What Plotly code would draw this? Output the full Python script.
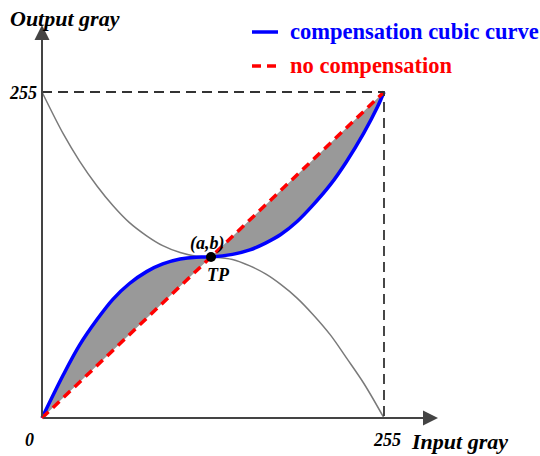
import plotly.graph_objects as go

# ---------------- data ----------------
max_gray = 255
blue_x = [0, 16, 28, 41, 53, 65, 78, 90, 103, 115, 126, 142, 155, 167, 178, 190, 202, 215, 227, 240, 250, 255]
blue_y = [0, 34, 57, 77, 93, 105, 114.5, 120.5, 124.3, 125.8, 126, 128, 131.5, 137, 143.5, 153.5, 166.5, 182.5, 200.5, 223, 243, 255]
gray_x = [0, 16, 28, 41, 53, 65, 78, 90, 103, 115, 126, 142, 155, 167, 178, 190, 202, 215, 227, 240, 255]
gray_y = [255, 222, 201, 181.5, 166, 153, 142.5, 134.8, 129.4, 126.6, 126, 124, 119, 112.5, 104.5, 94, 81, 65, 47, 27, 0]
diag_x = [0, 255]
diag_y = [0, 255]
tp_a, tp_b = 126, 126
legend_labels = ["compensation cubic curve", "no compensation"]
tick_labels = ["0", "255"]
axis_titles = ["Input gray", "Output gray"]
tp_labels = ["(a,b)", "TP"]

# ---------------- layout helpers ----------------
W, H = 540, 456
X0, X1 = 42, 384      # pixel columns of 0 and 255
Y0, Y1 = 418, 92      # pixel rows of 0 and 255
sx = (X1 - X0) / max_gray
sy = (Y0 - Y1) / max_gray
xr = [-X0 / sx, (W - X0) / sx]
yr = [-(H - Y0) / sy, Y0 / sy]


def px(x):
    return x / W


def py(y):
    return 1 - y / H


FONT = "Times New Roman, Liberation Serif, serif"

fig = go.Figure()

# hidden diagonal as base for the fill
fig.add_trace(go.Scatter(x=diag_x, y=diag_y, mode="lines",
                         line=dict(width=0, color="rgba(0,0,0,0)"),
                         showlegend=False, hoverinfo="skip"))
# grey area between compensation curve and diagonal
fig.add_trace(go.Scatter(x=blue_x, y=blue_y, mode="lines", fill="tonexty",
                         fillcolor="#999999",
                         line=dict(width=0, shape="spline", smoothing=1.0, color="rgba(0,0,0,0)"),
                         showlegend=False, hoverinfo="skip"))
# mirrored grey curve
fig.add_trace(go.Scatter(x=gray_x, y=gray_y, mode="lines",
                         line=dict(width=1.5, color="#7a7a7a", shape="spline", smoothing=1.0),
                         showlegend=False))
# compensation cubic curve
fig.add_trace(go.Scatter(x=blue_x, y=blue_y, mode="lines",
                         line=dict(width=3.5, color="#0000ff", shape="spline", smoothing=1.0),
                         showlegend=False))
# no compensation
fig.add_trace(go.Scatter(x=diag_x, y=diag_y, mode="lines",
                         line=dict(width=3.5, color="#ff0000", dash="9px,6px"),
                         showlegend=False))
# dashed box
fig.add_trace(go.Scatter(x=[0, max_gray, max_gray], y=[max_gray, max_gray, 0], mode="lines",
                         line=dict(width=1.8, color="#333333", dash="10px,6px"),
                         showlegend=False))
# turning point
fig.add_trace(go.Scatter(x=[tp_a], y=[tp_b], mode="markers",
                         marker=dict(size=10, color="black"),
                         showlegend=False))

annotations = []
# axes with arrows
annotations.append(dict(x=(438 - X0) / sx, y=0, ax=0, ay=0, xref="x", yref="y",
                        axref="x", ayref="y", text="", showarrow=True,
                        arrowhead=2, arrowsize=1.5, arrowwidth=2, arrowcolor="#444444"))
annotations.append(dict(x=0, y=(Y0 - 25) / sy, ax=0, ay=0, xref="x", yref="y",
                        axref="x", ayref="y", text="", showarrow=True,
                        arrowhead=2, arrowsize=1.5, arrowwidth=2, arrowcolor="#444444"))


def label(text, x, y, size, xanchor="center", color="black", italic=True):
    annotations.append(dict(text=text, x=px(x), y=py(y), xref="paper", yref="paper",
                            xanchor=xanchor, yanchor="middle", showarrow=False,
                            font=dict(family=FONT, size=size, color=color,
                                      weight="bold", style="italic" if italic else "normal")))


label(axis_titles[1], 8, 18, 22, xanchor="left")
label(axis_titles[0], 409, 441, 22, xanchor="left")
label(tick_labels[1], 39, 93, 18, xanchor="right")
label(tick_labels[0], 29, 440, 18)
label(tick_labels[1], 387, 440, 18)
label(tp_labels[0], 207, 243, 18)
label(tp_labels[1], 218, 275, 18)

# legend
label(legend_labels[0], 288, 31, 22.5, xanchor="left", color="#0000ff", italic=False)
label(legend_labels[1], 288, 65, 22.5, xanchor="left", color="#ff0000", italic=False)
shapes = [
    dict(type="line", xref="paper", yref="paper", x0=px(252), x1=px(278), y0=py(32), y1=py(32),
         line=dict(color="#0000ff", width=3.5)),
    dict(type="line", xref="paper", yref="paper", x0=px(252), x1=px(278), y0=py(66), y1=py(66),
         line=dict(color="#ff0000", width=3.5, dash="9px,6px")),
]

fig.update_layout(
    width=W, height=H, autosize=False,
    margin=dict(l=0, r=0, t=0, b=0, pad=0),
    paper_bgcolor="white", plot_bgcolor="white",
    xaxis=dict(range=xr, visible=False, fixedrange=True),
    yaxis=dict(range=yr, visible=False, fixedrange=True),
    annotations=annotations, shapes=shapes,
    showlegend=False,
)

fig.write_html("out.html")
